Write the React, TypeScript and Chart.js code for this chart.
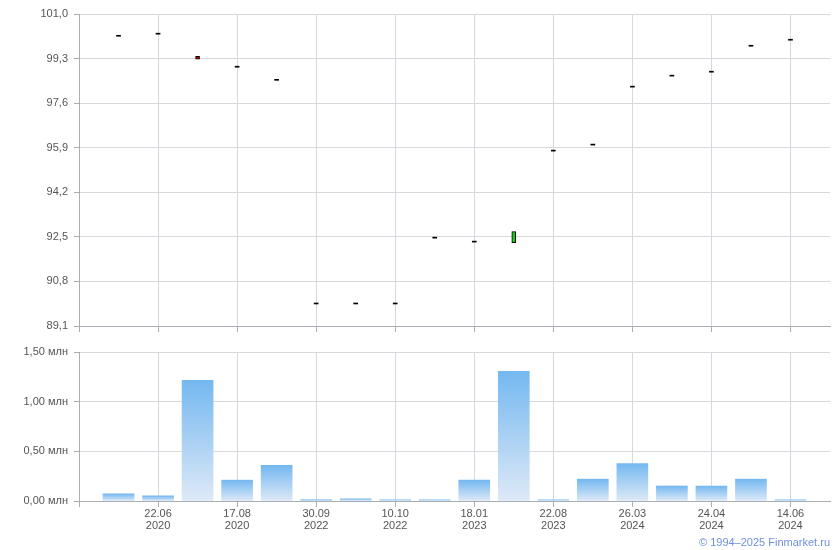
import React, { useEffect, useRef } from 'react';
import { Chart, registerables } from 'chart.js';

Chart.register(...registerables);

// 20 slots on the time axis; the first and last are empty margins
const slotLabels = ['', '', '22.06 2020', '', '17.08 2020', '', '30.09 2022', '', '10.10 2022', '', '18.01 2023', '', '22.08 2023', '', '26.03 2024', '', '24.04 2024', '', '14.06 2024', ''];
const openPrices = [null, 100.15, 100.23, 99.39, 98.97, 98.47, 89.94, 89.94, 89.94, 92.45, 92.30, 92.28, 95.77, 96.00, 98.21, 98.63, 98.78, 99.77, 100.00, null];
const closePrices = [null, 100.15, 100.23, 99.28, 98.97, 98.47, 89.94, 89.94, 89.94, 92.45, 92.30, 92.70, 95.77, 96.00, 98.21, 98.63, 98.78, 99.77, 100.00, null];
const volumes = [null, 0.072, 0.052, 1.216, 0.21, 0.358, 0.013, 0.023, 0.013, 0.012, 0.21, 1.305, 0.012, 0.22, 0.378, 0.151, 0.151, 0.22, 0.012, null];
const priceTicks = [89.1, 90.8, 92.5, 94.2, 95.9, 97.6, 99.3, 101.0];
const volumeTicks = [0, 0.5, 1.0, 1.5];

const GRID = '#d5d9de';
const AXIS = '#a9adb4';
const TEXT = '#555555';
const FONT = { family: 'Liberation Sans, Arial, sans-serif', size: 11, lineHeight: 1.1 };

function xScale(showLabels: boolean, height: number) {
  return {
    type: 'category' as const,
    offset: false,
    grid: {
      offset: false,
      color: (c: any) => (c.index % 2 === 0 ? GRID : 'rgba(0,0,0,0)'),
      tickColor: (c: any) => (c.index % 2 === 0 ? AXIS : 'rgba(0,0,0,0)'),
      tickLength: 6,
    },
    border: { color: AXIS },
    ticks: {
      display: showLabels,
      autoSkip: false,
      maxRotation: 0,
      padding: 1,
      color: TEXT,
      font: FONT,
      callback: (_v: any, i: number) => {
        const s = slotLabels[i];
        return s ? s.split(' ') : '';
      },
    },
    afterFit: (s: any) => {
      s.height = height;
    },
  };
}

export default function App() {
  const topRef = useRef<HTMLCanvasElement>(null);
  const botRef = useRef<HTMLCanvasElement>(null);

  useEffect(() => {
    const candleData = openPrices.map((o, i) => (o == null ? null : [o, closePrices[i] as number]));
    const candleColor = (c: any) => {
      const o = openPrices[c.dataIndex];
      const cl = closePrices[c.dataIndex];
      if (o == null || cl == null) return '#000';
      return cl > o ? '#1ec81e' : cl < o ? '#e00000' : '#000000';
    };

    const top = new Chart(topRef.current!, {
      type: 'bar',
      data: {
        labels: slotLabels,
        datasets: [
          {
            data: candleData as any,
            backgroundColor: candleColor,
            borderColor: '#000000',
            borderWidth: (c: any) => {
              const o = openPrices[c.dataIndex];
              const cl = closePrices[c.dataIndex];
              return o !== cl ? 1 : 0;
            },
            borderSkipped: false,
            barThickness: 4,
            minBarLength: 1,
          } as any,
        ],
      },
      options: {
        responsive: false,
        animation: false,
        layout: { padding: { top: 14, right: 10, left: 0, bottom: 0 } },
        plugins: { legend: { display: false }, tooltip: { enabled: false } },
        scales: {
          x: xScale(false, 14) as any,
          y: {
            min: 89.1,
            max: 101,
            afterBuildTicks: (s: any) => {
              s.ticks = priceTicks.map((v) => ({ value: v }));
            },
            afterFit: (s: any) => {
              s.width = 79;
            },
            grid: { color: GRID, tickColor: AXIS, tickLength: 5 },
            border: { color: AXIS },
            ticks: {
              color: TEXT,
              font: FONT,
              padding: 6,
              callback: (v: any) => Number(v).toFixed(1).replace('.', ','),
            },
          },
        },
      },
    });

    const volColor = (c: any) => {
      const chart = c.chart;
      const y = chart.scales && chart.scales.y;
      if (c.type !== 'data' || !y || c.raw == null) return '#74b8f0';
      const t = y.getPixelForValue(c.raw);
      const b = y.getPixelForValue(0);
      if (!isFinite(t) || !isFinite(b) || t === b) return '#74b8f0';
      const g = chart.ctx.createLinearGradient(0, t, 0, b);
      g.addColorStop(0, '#74b8f0');
      g.addColorStop(1, '#dee9f7');
      return g;
    };

    const bot = new Chart(botRef.current!, {
      type: 'bar',
      data: {
        labels: slotLabels,
        datasets: [
          {
            data: volumes as any,
            backgroundColor: volColor,
            borderWidth: 0,
            barThickness: 31,
          } as any,
        ],
      },
      options: {
        responsive: false,
        animation: false,
        layout: { padding: { top: 8, right: 10, left: 0, bottom: 0 } },
        plugins: { legend: { display: false }, tooltip: { enabled: false } },
        scales: {
          x: xScale(true, 49) as any,
          y: {
            min: 0,
            max: 1.5,
            afterBuildTicks: (s: any) => {
              s.ticks = volumeTicks.map((v) => ({ value: v }));
            },
            afterFit: (s: any) => {
              s.width = 79;
            },
            grid: { color: GRID, tickColor: AXIS, tickLength: 5 },
            border: { color: AXIS },
            ticks: {
              color: TEXT,
              font: FONT,
              padding: 6,
              callback: (v: any) => Number(v).toFixed(2).replace('.', ',') + ' млн',
            },
          },
        },
      },
    });

    return () => {
      top.destroy();
      bot.destroy();
    };
  }, []);

  return (
    <div style={{ position: 'fixed', left: 0, top: 0, width: 840, height: 550, background: '#fff' }}>
      <canvas ref={topRef} width={840} height={340} style={{ position: 'absolute', left: 0, top: 0 }} />
      <canvas ref={botRef} width={840} height={210} style={{ position: 'absolute', left: 0, top: 340 }} />
      <div
        style={{
          position: 'absolute',
          right: 10,
          top: 535,
          fontFamily: 'Liberation Sans, Arial, sans-serif',
          fontSize: 11,
          lineHeight: '14px',
          color: '#6f8fe3',
          whiteSpace: 'nowrap',
        }}
      >
        © 1994–2025 Finmarket.ru
      </div>
    </div>
  );
}
